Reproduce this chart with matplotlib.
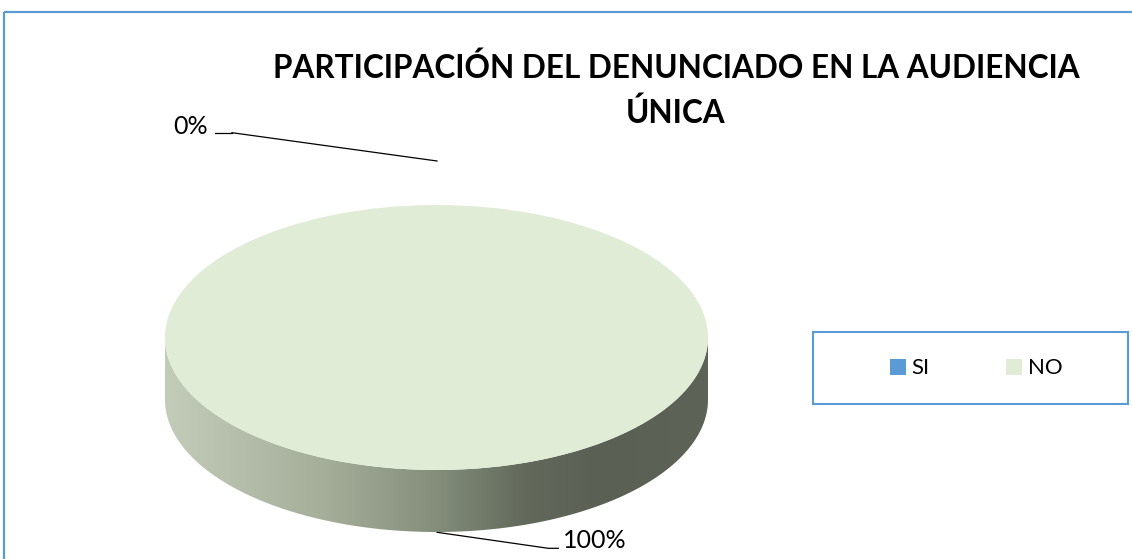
import matplotlib
matplotlib.use('Agg')
import matplotlib.pyplot as plt
import numpy as np
from matplotlib.patches import Rectangle, Polygon
from matplotlib.colors import LinearSegmentedColormap

# ---------------- data ----------------
categories = ['SI', 'NO']
values = [0, 100]
pct_labels = ['0%', '100%']
title_text = 'PARTICIPACIÓN DEL DENUNCIADO EN LA AUDIENCIA\nÚNICA'
slice_colors = ['#5b9bd5', '#e0ecd6']

# ---------------- figure ----------------
W, H = 1132, 559
DPI = 100
plt.rcParams['font.family'] = ['Lato', 'DejaVu Sans']
fig = plt.figure(figsize=(W / DPI, H / DPI), dpi=DPI)

# background axes in pixel coordinates (for frame, title, labels)
bg = fig.add_axes([0, 0, 1, 1])
bg.set_xlim(0, W)
bg.set_ylim(H, 0)
bg.axis('off')
bg.add_patch(Rectangle((4, 12), W + 40, H + 40, fill=False,
                       edgecolor='#5b9bd5', lw=1.6, zorder=1))

# title, fitted to its width in the reference
title = bg.text(676, 52, title_text, ha='center', va='top', fontsize=26,
                fontweight='bold', color='black', linespacing=1.6,
                multialignment='center')
fig.canvas.draw()
r = fig.canvas.get_renderer()
line1 = bg.text(0, 0, title_text.split('\n')[0], fontsize=26, fontweight='bold')
w1 = line1.get_window_extent(r).width
line1.remove()
title.set_fontsize(26 * 808.0 / w1)

# ---------------- 3D-looking pie ----------------
top_y0, top_y1 = 205, 470      # top ellipse extent (px)
side_bottom = 532               # bottom of the side wall (px)
x0, x1 = 165, 708
b_px = (top_y1 - top_y0) / 2.0
depth = (side_bottom - top_y1) / b_px

pax = fig.add_axes([x0 / W, (H - side_bottom) / H, (x1 - x0) / W,
                    (side_bottom - top_y0) / H])
wedges, _ = pax.pie(values, colors=slice_colors, startangle=90,
                    counterclock=False, radius=1,
                    wedgeprops=dict(linewidth=0))
pax.set_aspect('auto')
pax.set_xlim(-1, 1)
pax.set_ylim(-1 - depth, 1)
pax.axis('off')
for w in wedges:
    w.set_zorder(3)

side_cmap = LinearSegmentedColormap.from_list(
    'side', [(0.0, '#c2ccb9'), (0.30, '#a3ad98'), (0.50, '#848e7b'),
             (0.66, '#636a5c'), (0.80, '#5a6054'), (1.0, '#5d6357')])
grad = np.linspace(0, 1, 512).reshape(1, -1)

for w in wedges:
    if w.theta2 - w.theta1 <= 0:
        continue
    t = np.radians(np.linspace(w.theta1, w.theta2, 1441))
    t = t[np.sin(t) <= 0]
    if t.size < 2:
        continue
    top = np.column_stack([np.cos(t), np.sin(t)])
    bot = np.column_stack([np.cos(t), np.sin(t) - depth])[::-1]
    poly = Polygon(np.vstack([top, bot]), closed=True, facecolor='none',
                   edgecolor='none', transform=pax.transData)
    pax.add_patch(poly)
    im = pax.imshow(grad, cmap=side_cmap, aspect='auto',
                    extent=(-1, 1, -1 - depth, 0), zorder=2,
                    interpolation='bilinear')
    im.set_clip_path(poly)

pax.set_xlim(-1, 1)
pax.set_ylim(-1 - depth, 1)

# ---------------- data labels with leader lines ----------------
label_fs = 18
# SI (0%) : top of pie
a_si = np.radians((wedges[0].theta1 + wedges[0].theta2) / 2)
pax.annotate(pct_labels[0], xy=(np.cos(a_si), np.sin(a_si) + 0.33),
             xycoords='data', xytext=(208, 127),
             textcoords=bg.transData, ha='right', va='center',
             fontsize=label_fs, annotation_clip=False)
bg.plot([215, 232], [132.7, 132.7], color='black', lw=0.9)
bg.plot([232, 437], [132.7, 161], color='black', lw=0.9)

# NO (100%) : bottom of pie
pax.annotate(pct_labels[1], xy=(0, -1 - depth), xycoords='data',
             xytext=(563, 541), textcoords=bg.transData, ha='left',
             va='center', fontsize=label_fs, annotation_clip=False)
bg.plot([437, 548.3, 558.3], [532.3, 548.3, 548.3], color='black', lw=0.9)

# ---------------- legend ----------------
bg.add_patch(Rectangle((813, 332), 315, 72, fill=False,
                       edgecolor='#5b9bd5', lw=1.5, zorder=1))
leg_fs = 16
fs_px = leg_fs * DPI / 72.0
leg = bg.legend(wedges, categories, ncol=2, loc='center',
                bbox_to_anchor=(976, 368.5), bbox_transform=bg.transData,
                frameon=False, fontsize=leg_fs,
                handlelength=16 / fs_px, handleheight=16 / fs_px,
                handletextpad=6 / fs_px, columnspacing=76 / fs_px,
                borderpad=0)
for h in leg.legend_handles:
    h.set_edgecolor('none')

fig.savefig('out.png', dpi=DPI)
